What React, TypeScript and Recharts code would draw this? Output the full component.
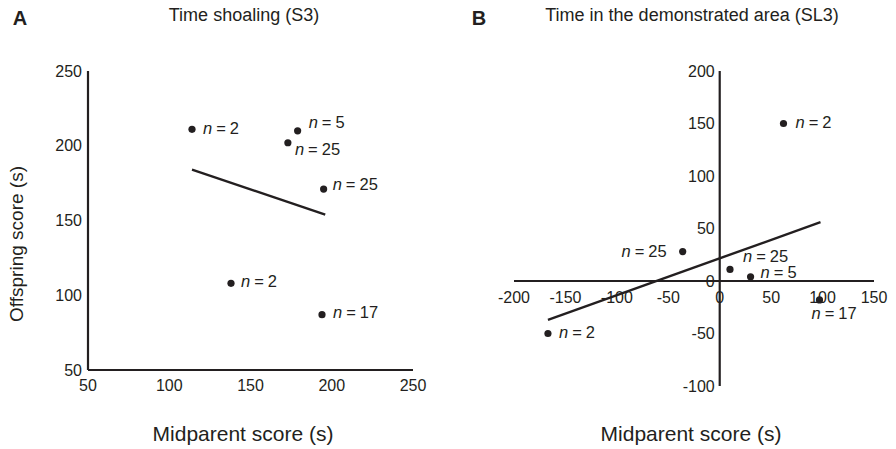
import {
  ScatterChart,
  Scatter,
  XAxis,
  YAxis,
  ReferenceLine,
  ReferenceDot,
} from "recharts";

const INK = "#231f20";
const FONT = '"Liberation Sans", Arial, Helvetica, sans-serif';

// panel A: time shoaling (S3)
const midparentA = [114, 179, 173, 195, 138, 194];
const offspringA = [211, 210, 202, 171, 108, 87];
const familiesA = [2, 5, 25, 25, 2, 17];
const fitAx = [114, 196];
const fitAy = [184, 154];
const ticksA = [50, 100, 150, 200, 250];

// panel B: time in the demonstrated area (SL3)
const midparentB = [62, -36, 10, 30, 97, -167];
const offspringB = [150, 28, 11, 4, -18, -50];
const familiesB = [2, 25, 25, 5, 17, 2];
const fitBx = [-167, 98];
const fitBy = [-37, 56];
const ticksBx = [-200, -150, -100, -50, 0, 50, 100, 150];
const ticksBy = [-100, -50, 0, 50, 100, 150, 200];

// where each "n = .." tag sits relative to its dot: [dx, dy, anchor]
const tagsA: [number, number, string][] = [
  [11, 4.4, "start"],
  [11, -2.6, "start"],
  [7, 12, "start"],
  [9, 1, "start"],
  [10, 3.7, "start"],
  [11, 3.4, "start"],
];
const tagsB: [number, number, string][] = [
  [12, 4.7, "start"],
  [-16, 5.7, "end"],
  [13, -7.6, "start"],
  [10, 0.7, "start"],
  [-8, 19, "start"],
  [11, 4.4, "start"],
];

const toPoints = (xs: number[], ys: number[], ns: number[]) =>
  xs.map((x, i) => ({ x, y: ys[i], n: ns[i], i }));

const dataA = toPoints(midparentA, offspringA, familiesA);
const dataB = toPoints(midparentB, offspringB, familiesB);

const segment = (xs: number[], ys: number[]) =>
  xs.map((x, i) => ({ x, y: ys[i] }));

const makeDot = (tags: [number, number, string][]) => (props: any) => {
  const { cx, cy, payload } = props;
  const [dx, dy, anchor] = tags[payload.i];
  return (
    <g>
      <circle cx={cx} cy={cy} r={3.6} fill={INK} />
      <text
        x={cx + dx}
        y={cy + dy}
        textAnchor={anchor as any}
        fontSize={16.5}
        fontFamily={FONT}
        fill={INK}
      >
        <tspan fontStyle="italic">n</tspan>
        <tspan dx={4}>=</tspan>
        <tspan dx={4}>{payload.n}</tspan>
      </text>
    </g>
  );
};

const tickStyle = { fill: INK, fontSize: 16, fontFamily: FONT };

function PanelA() {
  return (
    <ScatterChart
      width={448}
      height={449}
      margin={{ top: 71, right: 35, bottom: 49, left: 30 }}
    >
      <XAxis
        type="number"
        dataKey="x"
        domain={[50, 250]}
        ticks={ticksA}
        interval={0}
        height={30}
        axisLine={{ stroke: INK, strokeWidth: 2.2 }}
        tickLine={false}
        tickSize={6}
        tickMargin={4}
        tick={tickStyle}
        allowDataOverflow
      />
      <YAxis
        type="number"
        dataKey="y"
        domain={[50, 250]}
        ticks={ticksA}
        interval={0}
        width={58}
        axisLine={{ stroke: INK, strokeWidth: 2.2 }}
        tickLine={false}
        tickSize={4}
        tickMargin={2}
        tick={tickStyle}
        allowDataOverflow
      />
      <ReferenceLine
        segment={segment(fitAx, fitAy)}
        stroke={INK}
        strokeWidth={2.4}
      />
      <Scatter data={dataA} shape={makeDot(tagsA)} isAnimationActive={false} />
    </ScatterChart>
  );
}

function PanelB() {
  return (
    <ScatterChart
      width={448}
      height={449}
      margin={{ top: 71, right: 22, bottom: 63, left: 66 }}
    >
      <XAxis type="number" dataKey="x" domain={[-200, 150]} hide allowDataOverflow />
      <YAxis type="number" dataKey="y" domain={[-100, 200]} hide allowDataOverflow />
      {/* axes cross at the origin */}
      <ReferenceLine y={0} stroke={INK} strokeWidth={2.2} />
      <ReferenceLine x={0} stroke={INK} strokeWidth={2.2} />
      {ticksBx.map((v) => (
        <ReferenceDot
          key={"x" + v}
          x={v}
          y={0}
          shape={(p: any) => (
            <text
              x={p.cx}
              y={p.cy + 16.5}
              dy="0.35em"
              textAnchor="middle"
              {...tickStyle}
            >
              {v}
            </text>
          )}
        />
      ))}
      {ticksBy.map((v) => (
        <ReferenceDot
          key={"y" + v}
          x={0}
          y={v}
          shape={(p: any) => (
            <text
              x={p.cx - 5}
              y={p.cy}
              dy="0.35em"
              textAnchor="end"
              {...tickStyle}
            >
              {v}
            </text>
          )}
        />
      ))}
      <ReferenceLine
        segment={segment(fitBx, fitBy)}
        stroke={INK}
        strokeWidth={2.4}
      />
      <Scatter data={dataB} shape={makeDot(tagsB)} isAnimationActive={false} />
    </ScatterChart>
  );
}

export default function App() {
  return (
    <div
      style={{
        position: "absolute",
        left: 0,
        top: 0,
        width: 896,
        height: 449,
        background: "#fff",
      }}
    >
      <div style={{ position: "absolute", left: 0, top: 0 }}>
        <PanelA />
      </div>
      <div style={{ position: "absolute", left: 448, top: 0 }}>
        <PanelB />
      </div>
      <svg
        width={896}
        height={449}
        style={{ position: "absolute", left: 0, top: 0, pointerEvents: "none" }}
        fontFamily={FONT}
        fill={INK}
      >
        <text x={20} y={25} fontSize={20} fontWeight="bold" textAnchor="middle">
          A
        </text>
        <text x={479} y={24.5} fontSize={20} fontWeight="bold" textAnchor="middle">
          B
        </text>
        <text x={244} y={21} fontSize={18} textAnchor="middle">
          Time shoaling (S3)
        </text>
        <text x={692} y={21} fontSize={18} textAnchor="middle">
          Time in the demonstrated area (SL3)
        </text>
        <text
          x={0}
          y={0}
          fontSize={19}
          textAnchor="middle"
          dy="0.35em"
          transform="translate(16 244) rotate(-90)"
        >
          Offspring score (s)
        </text>
        <text x={243} y={441} fontSize={21} textAnchor="middle">
          Midparent score (s)
        </text>
        <text x={691} y={441} fontSize={21} textAnchor="middle">
          Midparent score (s)
        </text>
      </svg>
    </div>
  );
}
